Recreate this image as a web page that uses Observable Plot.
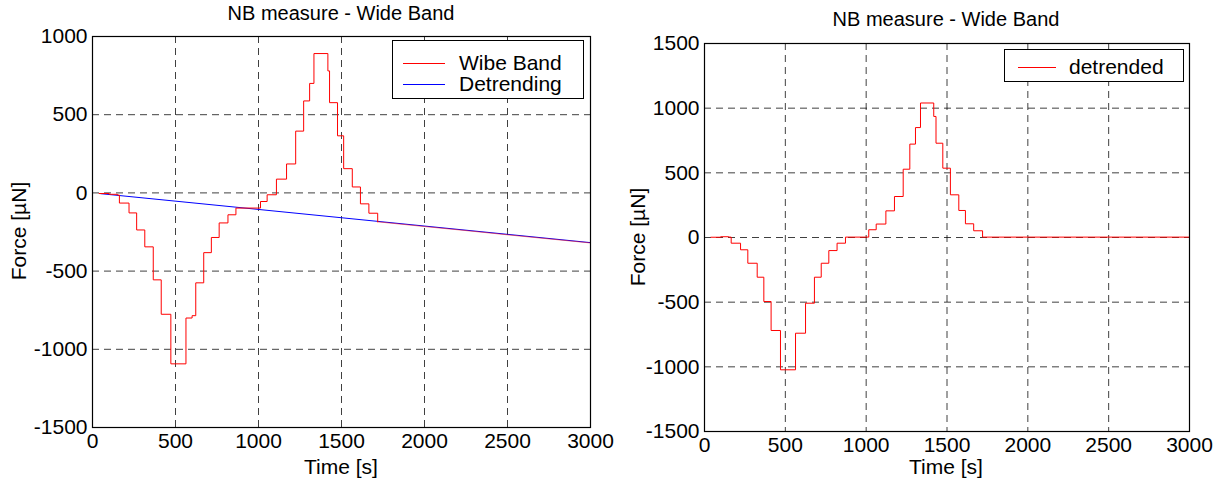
<!DOCTYPE html>
<html><head><meta charset="utf-8">
<script src="https://cdn.jsdelivr.net/npm/d3@7"></script>
<script src="https://cdn.jsdelivr.net/npm/@observablehq/plot@0.6"></script>
<style>
body{margin:0;background:#fff;}
#wrap{position:relative;width:1226px;height:486px;font-family:"Liberation Sans",Arial,sans-serif;color:#000;overflow:hidden;}
.abs{position:absolute;white-space:nowrap;line-height:1;}
.lg{position:absolute;border:1px solid #000;background:#fff;}
</style></head><body><div id="wrap"></div>
<script>
// ---- data ----
const xTicks = [0, 500, 1000, 1500, 2000, 2500, 3000];
const xGrid = [500, 1000, 1500, 2000, 2500];
const yTicksL = [-1500, -1000, -500, 0, 500, 1000];
const yGridL = [-1000, -500, 0, 500];
const yTicksR = [-1500, -1000, -500, 0, 500, 1000, 1500];
const yGridR = [-1000, -500, 0, 500, 1000];

// Left: "Wibe Band" staircase (step-after)
const wideT = [40,100,150,162,220,266,315,366,414,472,563,600,622,670,716,763,816,864,1012,1052,1108,1169,1224,1272,1308,1334,1418,1428,1476,1513,1565,1614,1665,1718];
const wideV = [-4,-9,-14,-65,-128,-237,-345,-556,-776,-1093,-800,-785,-575,-382,-285,-192,-140,-97,-55,-12,88,185,395,588,700,891,780,577,365,155,38,-70,-130,-185];
// Left: "Wibe Band" tail after the pulse
const tailT = [1718, 2000, 2250, 2500, 2750, 3000];
const tailV = [-185, -215, -241, -268, -294, -320];
// Left: "Detrending" line
const trendT = [50, 3000];
const trendV = [-5, -318];

// Right: "detrended" staircase (step-after)
const detT = [40,100,150,165,223,268,326,367,412,470,563,625,680,722,769,820,872,1016,1062,1122,1175,1229,1270,1305,1336,1418,1432,1474,1521,1573,1614,1665,1720,3000];
const detV = [2,6,3,-44,-95,-199,-307,-495,-719,-1023,-740,-508,-307,-199,-101,-44,3,60,104,206,317,528,722,850,1040,936,729,536,330,209,106,52,3,3];

const title = "NB measure - Wide Band";
const xLabel = "Time [s]";
const yLabel = "Force [µN]";
const legendL = ["Wibe Band", "Detrending"];
const legendR = ["detrended"];

// ---- build ----
const rows = (T, V) => T.map((t, i) => ({t, v: V[i]}));
const fmt = d => String(d);
const font = '"Liberation Sans", Arial, sans-serif';
const gridStyle = {stroke: "#000", strokeOpacity: 0.75, strokeDasharray: "7,5", strokeWidth: 1};

function makePlot(o) {
  return Plot.plot({
    width: 613, height: 486,
    marginLeft: o.ml, marginRight: o.mr, marginTop: o.mt, marginBottom: o.mb,
    x: {domain: [0, 3000], ticks: xTicks, tickFormat: fmt, tickSize: 0, tickPadding: 6, label: null},
    y: {domain: o.yDomain, ticks: o.yTicks, tickFormat: fmt, tickSize: 0, tickPadding: 5, label: null},
    style: {fontSize: "21px", fontFamily: font, background: "transparent", color: "#000", overflow: "visible"},
    marks: [
      Plot.ruleX(xGrid, gridStyle),
      Plot.ruleY(o.yGrid, gridStyle),
      ...o.lines,
      Plot.frame({stroke: "#000", strokeWidth: 1.2})
    ]
  });
}

const wrap = document.getElementById("wrap");

const left = makePlot({
  ml: 92, mr: 23, mt: 36, mb: 59,
  yDomain: [-1500, 1000], yTicks: yTicksL, yGrid: yGridL,
  lines: [
    Plot.line(rows(trendT, trendV), {x: "t", y: "v", stroke: "#0000ff", strokeWidth: 1}),
    Plot.line(rows(wideT, wideV), {x: "t", y: "v", stroke: "#ff0000", strokeWidth: 1, curve: "step-after"}),
    Plot.line(rows(tailT, tailV), {x: "t", y: "v", stroke: "#ff0000", strokeWidth: 1, strokeOpacity: 0.5})
  ]
});
left.style.position = "absolute"; left.style.left = "0px"; left.style.top = "0px";
wrap.appendChild(left);

const right = makePlot({
  ml: 91, mr: 37, mt: 43, mb: 55,
  yDomain: [-1500, 1500], yTicks: yTicksR, yGrid: yGridR,
  lines: [
    Plot.line(rows(detT, detV), {x: "t", y: "v", stroke: "#ff0000", strokeWidth: 1, curve: "step-after"})
  ]
});
right.style.position = "absolute"; right.style.left = "613px"; right.style.top = "0px";
wrap.appendChild(right);

function text(s, cx, cy, size, rot) {
  const d = document.createElement("div");
  d.className = "abs";
  d.textContent = s;
  d.style.fontSize = size + "px";
  d.style.left = cx + "px"; d.style.top = cy + "px";
  d.style.transform = "translate(-50%,-50%)" + (rot ? " rotate(" + rot + "deg)" : "");
  wrap.appendChild(d);
}
text(title, 341, 13, 20);
text(title, 946, 19, 20);
text(xLabel, 341, 466, 21);
text(xLabel, 946, 466, 21);
text(yLabel, 18, 231, 21, -90);
text(yLabel, 637, 237, 21, -90);

function legend(x, y, w, h, items) {
  const b = document.createElement("div");
  b.className = "lg";
  b.style.left = x + "px"; b.style.top = y + "px";
  b.style.width = w + "px"; b.style.height = h + "px";
  wrap.appendChild(b);
  items.forEach((it, i) => {
    const ln = document.createElement("div");
    ln.style.position = "absolute";
    ln.style.left = it.lx + "px"; ln.style.top = it.ly + "px";
    ln.style.width = it.lw + "px"; ln.style.height = "1px";
    ln.style.background = it.color;
    b.appendChild(ln);
    const t = document.createElement("div");
    t.className = "abs";
    t.textContent = it.label;
    t.style.fontSize = "21px";
    t.style.left = it.tx + "px"; t.style.top = (it.ly - 11) + "px";
    b.appendChild(t);
  });
}
legend(392, 40, 190, 57, [
  {label: legendL[0], color: "#ff0000", lx: 10, ly: 22, lw: 42, tx: 66},
  {label: legendL[1], color: "#0000ff", lx: 10, ly: 43, lw: 42, tx: 66}
]);
legend(1004, 49, 178, 31, [
  {label: legendR[0], color: "#ff0000", lx: 13, ly: 17, lw: 38, tx: 64}
]);
</script></body></html>
